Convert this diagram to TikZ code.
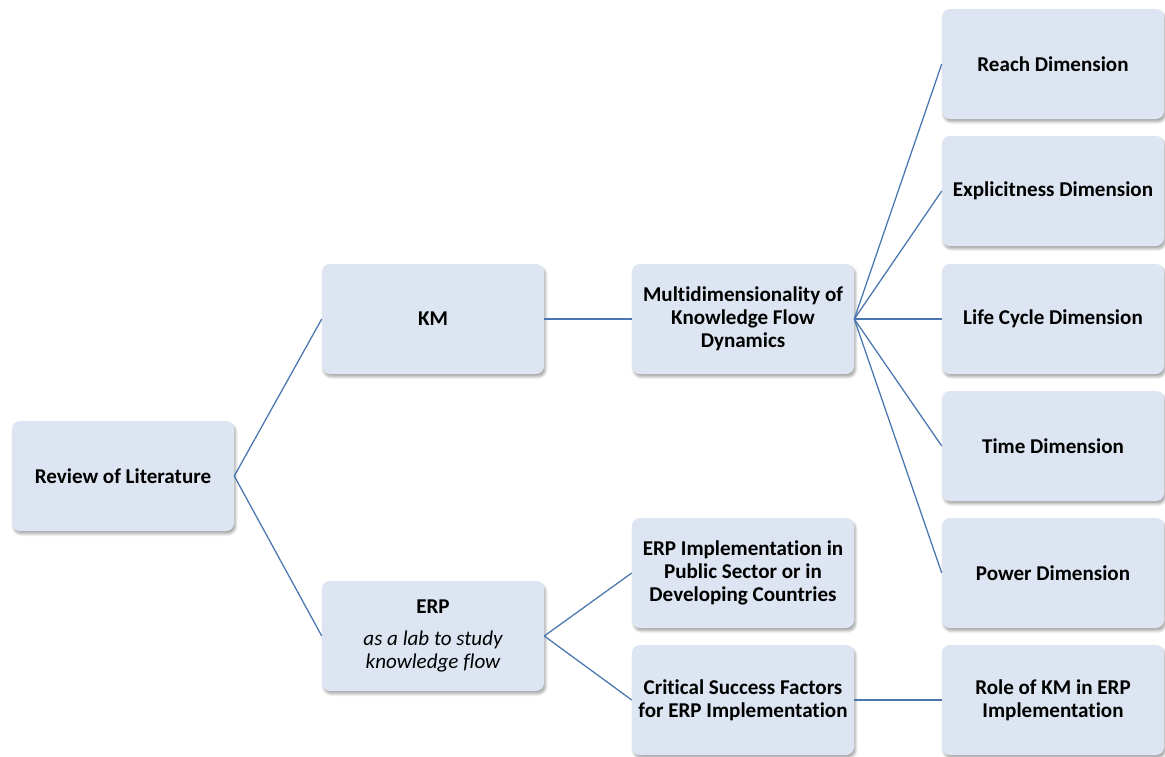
\documentclass[tikz,border=0pt]{standalone}
\usepackage{fontspec}
\setmainfont{Carlito}[Ligatures=NoCommon]
\usetikzlibrary{shadows.blur}
\definecolor{boxfill}{HTML}{DCE5F1}
\definecolor{linkblue}{HTML}{4A76B0}
\begin{document}
\begin{tikzpicture}[x=0.75pt,y=-0.75pt,
  card/.style={fill=boxfill, rounded corners=6pt, minimum width=166.5pt, minimum height=82.5pt,
    inner sep=2pt, align=center, font=\fontsize{15.8}{17.3}\selectfont\bfseries,
    blur shadow={shadow xshift=1.2pt, shadow yshift=-2.2pt, shadow blur steps=6, shadow opacity=35}},
  link/.style={draw=linkblue, line width=0.95pt}]
\useasboundingbox (0,0) rectangle (1165,757);

% root and first level
\node[card] (rev) at (123,476) {Review of Literature};
\node[card] (km)  at (433,319) {KM};
\node[card] (erp) at (433,636) {ERP\\[6pt]{\mdseries\itshape as a lab to study}\\{\mdseries\itshape knowledge flow}};

% second level
\node[card] (mkf) at (743,319) {Multidimensionality of\\Knowledge Flow\\Dynamics};
\node[card] (pub) at (743,573) {ERP Implementation in\\Public Sector or in\\Developing Countries};
\node[card] (csf) at (743,700) {Critical Success Factors\\for ERP Implementation};

% third level
\node[card] (reach) at (1053,64)  {Reach Dimension};
\node[card] (expl)  at (1053,191) {Explicitness Dimension};
\node[card] (life)  at (1053,319) {Life Cycle Dimension};
\node[card] (time)  at (1053,446) {Time Dimension};
\node[card] (power) at (1053,573) {Power Dimension};
\node[card] (role)  at (1053,700) {Role of KM in ERP\\Implementation};

% connectors
\draw[link] (rev.east) -- (km.west);
\draw[link] (rev.east) -- (erp.west);
\draw[link] (km.east) -- (mkf.west);
\draw[link] (erp.east) -- (pub.west);
\draw[link] (erp.east) -- (csf.west);
\draw[link] (csf.east) -- (role.west);
\foreach \t in {reach,expl,life,time,power}
  \draw[link] (mkf.east) -- (\t.west);
\end{tikzpicture}
\end{document}
